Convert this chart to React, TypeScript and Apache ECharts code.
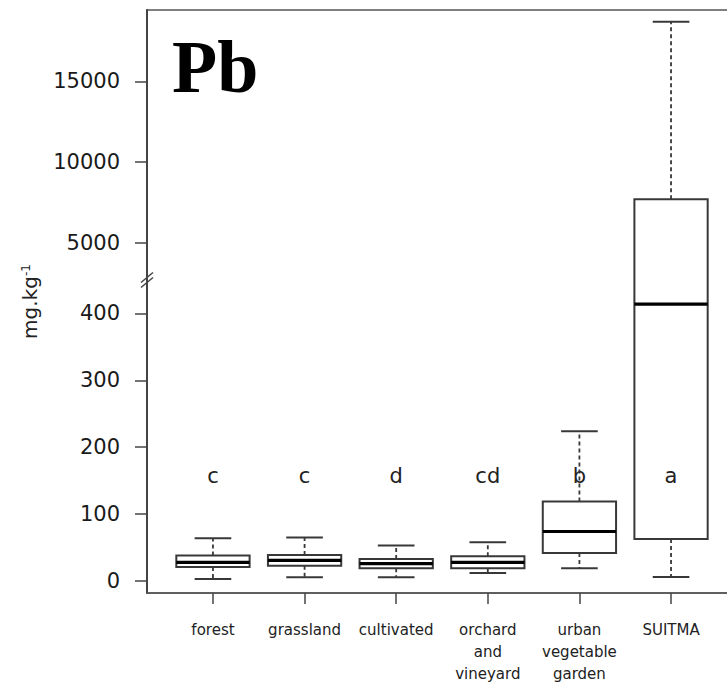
import React, { useEffect, useRef } from "react";
import * as echarts from "echarts";

// ---- data ----
const CATEGORIES = [
  "forest",
  "grassland",
  "cultivated",
  "orchard\nand\nvineyard",
  "urban\nvegetable\ngarden",
  "SUITMA",
];
const WHISKER_LOW = [3, 5.5, 5.5, 12, 19, 6];
const Q1 = [21, 23, 19, 19, 42, 63];
const MEDIAN = [28, 31, 26, 28, 74, 414];
const Q3 = [38, 39, 33, 37, 119, 7700];
const WHISKER_HIGH = [64, 65, 53, 58, 224, 18700];
const LETTERS = ["c", "c", "d", "cd", "b", "a"];
const LETTER_Y = 157;
const Y_TICKS = [0, 100, 200, 300, 400, 5000, 10000, 15000];

// ---- broken-axis scale (lower linear segment 0..450, upper segment from 5000) ----
const LOWER_MAX = 450;
const UPPER_REF = 5000;
const UPPER_REF_T = 505.5;
const UPPER_UNITS_PER_T = 41.44;
const toAxis = (v: number) =>
  v <= LOWER_MAX ? v : UPPER_REF_T + (v - UPPER_REF) / UPPER_UNITS_PER_T;
const fromAxis = (t: number) =>
  t <= LOWER_MAX + 1e-6 ? t : UPPER_REF + (t - UPPER_REF_T) * UPPER_UNITS_PER_T;

const BOX_WIDTH = 0.8;

export default function App() {
  const ref = useRef<HTMLDivElement>(null);

  useEffect(() => {
    if (!ref.current) return;
    const chart = echarts.init(ref.current, null, { renderer: "svg" });

    const boxData = CATEGORIES.map((_, i) => [
      i + 1,
      toAxis(WHISKER_LOW[i]),
      toAxis(Q1[i]),
      toAxis(MEDIAN[i]),
      toAxis(Q3[i]),
      toAxis(WHISKER_HIGH[i]),
    ]);
    const letterData = LETTERS.map((l, i) => [i + 1, LETTER_Y, l]);

    const lineCol = "#383838";

    chart.setOption({
      animation: false,
      backgroundColor: "#fff",
      title: {
        text: "Pb",
        left: 172,
        top: 30,
        padding: 0,
        textStyle: {
          fontFamily: "Liberation Serif",
          fontWeight: "bold",
          fontSize: 74,
          color: "#000",
        },
      },
      grid: {
        left: 147,
        right: 8,
        top: 10,
        bottom: 90,
        show: true,
        borderColor: "#555",
        borderWidth: 1.5,
        backgroundColor: "transparent",
      },
      xAxis: {
        type: "value",
        min: 0.28,
        max: 6.72,
        axisLine: { show: true, onZero: false, lineStyle: { color: "#555", width: 1.5 } },
        axisTick: {
          show: true,
          customValues: [1, 2, 3, 4, 5, 6],
          length: 11,
          lineStyle: { color: "#444", width: 1.5 },
        },
        axisLabel: {
          customValues: [1, 2, 3, 4, 5, 6],
          formatter: (v: number) => CATEGORIES[Math.round(v) - 1] ?? "",
          margin: 26,
          fontFamily: "DejaVu Sans",
          fontSize: 15,
          lineHeight: 22,
          color: "#222",
        },
        splitLine: { show: false },
      },
      yAxis: {
        type: "value",
        min: -17.9,
        max: 853.6,
        name: "{a|mg.kg}{s|-1}",
        nameLocation: "middle",
        nameRotate: 90,
        nameGap: 107,
        nameTextStyle: {
          rich: {
            a: { fontFamily: "DejaVu Sans", fontSize: 20, color: "#222" },
            s: { fontFamily: "DejaVu Sans", fontSize: 12, color: "#222", verticalAlign: "top" },
          },
        },
        axisLine: { show: true, lineStyle: { color: "#444", width: 2 } },
        axisTick: {
          show: true,
          customValues: Y_TICKS.map(toAxis),
          length: 12,
          lineStyle: { color: "#444", width: 1.5 },
        },
        axisLabel: {
          customValues: Y_TICKS.map(toAxis),
          formatter: (t: number) => String(Math.round(fromAxis(t))),
          margin: 27,
          fontFamily: "DejaVu Sans",
          fontSize: 21,
          color: "#1a1a1a",
        },
        splitLine: { show: false },
      },
      series: [
        {
          type: "custom",
          name: "box",
          data: boxData,
          renderItem: (params: any, api: any) => {
            const x = api.value(0);
            const pLow = api.coord([x, api.value(1)]);
            const pQ1 = api.coord([x, api.value(2)]);
            const pMed = api.coord([x, api.value(3)]);
            const pQ3 = api.coord([x, api.value(4)]);
            const pHigh = api.coord([x, api.value(5)]);
            const w = api.size([BOX_WIDTH, 0])[0];
            const hw = w / 2;
            const cw = w / 4;
            const cx = pMed[0];
            const dash = { stroke: lineCol, lineWidth: 1.8, lineDash: [4, 3] };
            const solid = { stroke: lineCol, lineWidth: 2 };
            return {
              type: "group",
              children: [
                { type: "line", shape: { x1: cx, y1: pQ3[1], x2: cx, y2: pHigh[1] }, style: dash },
                { type: "line", shape: { x1: cx, y1: pQ1[1], x2: cx, y2: pLow[1] }, style: dash },
                { type: "line", shape: { x1: cx - cw, y1: pHigh[1], x2: cx + cw, y2: pHigh[1] }, style: solid },
                { type: "line", shape: { x1: cx - cw, y1: pLow[1], x2: cx + cw, y2: pLow[1] }, style: solid },
                {
                  type: "rect",
                  shape: { x: cx - hw, y: pQ3[1], width: w, height: pQ1[1] - pQ3[1] },
                  style: { fill: "#fff", stroke: lineCol, lineWidth: 2 },
                },
                {
                  type: "line",
                  shape: { x1: cx - hw, y1: pMed[1], x2: cx + hw, y2: pMed[1] },
                  style: { stroke: "#000", lineWidth: 3.2 },
                },
              ],
            };
          },
          z: 2,
        },
        {
          type: "custom",
          name: "letters",
          data: letterData,
          renderItem: (params: any, api: any) => {
            const p = api.coord([api.value(0), api.value(1)]);
            return {
              type: "text",
              x: p[0],
              y: p[1],
              style: {
                text: LETTERS[params.dataIndex],
                fontFamily: "DejaVu Sans",
                fontSize: 21,
                fill: "#222",
                align: "center",
                verticalAlign: "middle",
              },
            };
          },
          z: 3,
        },
        {
          type: "custom",
          name: "break",
          data: [[0.28, LOWER_MAX]],
          clip: false,
          renderItem: (params: any, api: any) => {
            const p = api.coord([api.value(0), api.value(1)]);
            const st = { stroke: "#444", lineWidth: 1.5 };
            return {
              type: "group",
              children: [-2.5, 2.5].map((d) => ({
                type: "line",
                shape: { x1: p[0] - 6, y1: p[1] + d + 5, x2: p[0] + 6, y2: p[1] + d - 5 },
                style: st,
              })),
            };
          },
          z: 4,
        },
      ],
    });

    return () => chart.dispose();
  }, []);

  return (
    <div
      ref={ref}
      style={{ position: "fixed", left: 0, top: 0, width: 745, height: 685 }}
    />
  );
}
